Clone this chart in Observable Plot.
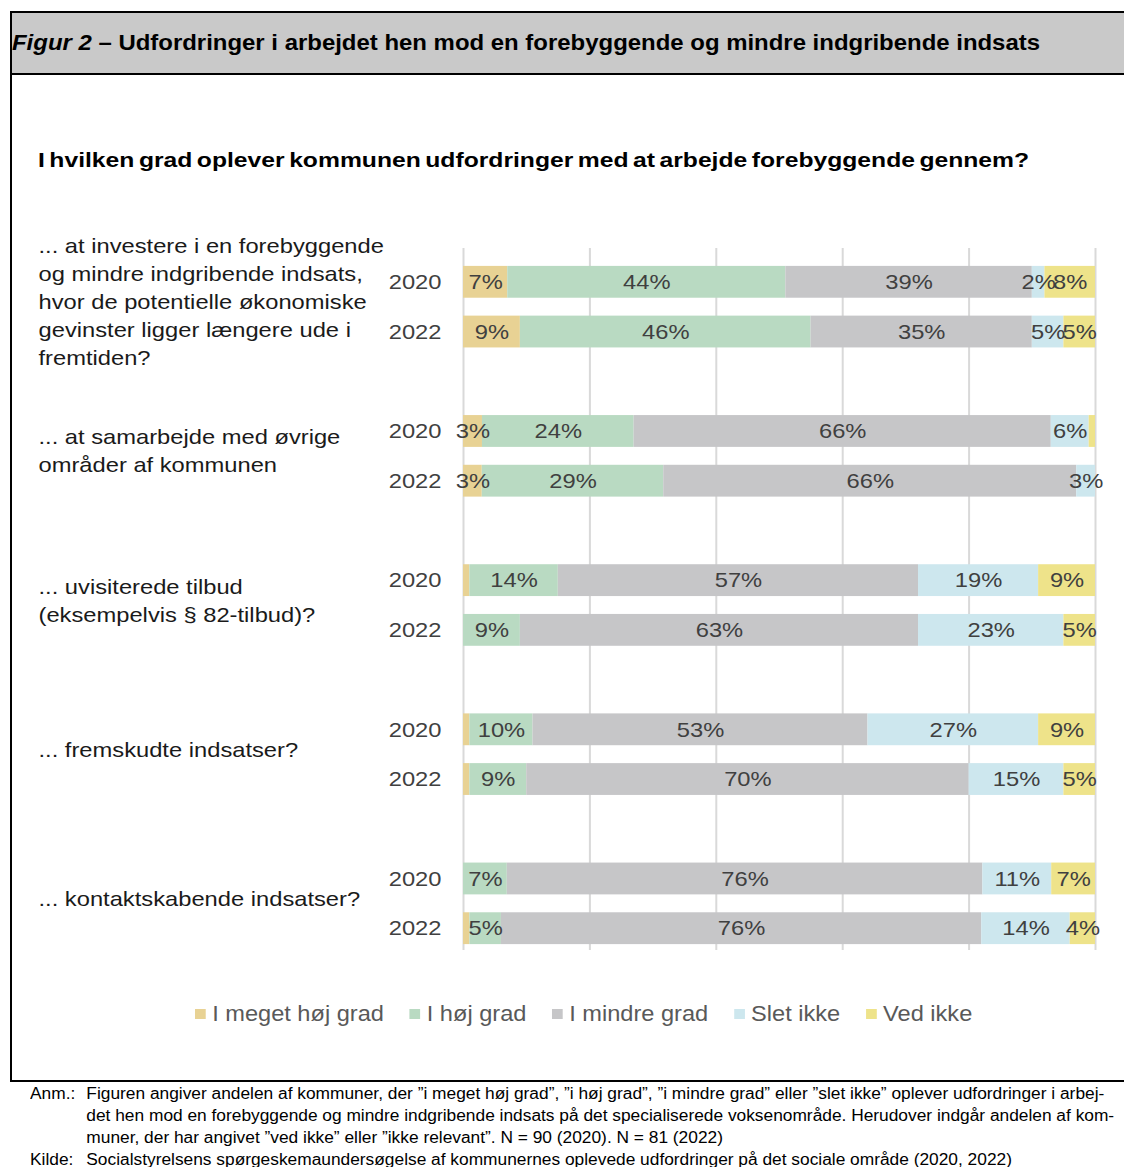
<!DOCTYPE html>
<html>
<head>
<meta charset="utf-8">
<script src="https://cdn.jsdelivr.net/npm/d3@7"></script>
<script src="https://cdn.jsdelivr.net/npm/@observablehq/plot@0.6"></script>
<style>
  body { margin: 0; background: #fff; }
  #page { position: relative; width: 1124px; height: 1167px; overflow: hidden; background: #fff;
          font-family: "Liberation Sans", Arial, sans-serif; color: #000; }
  .abs { position: absolute; }
  #frame { left: 10px; top: 11px; width: 1140px; height: 1071px; border: 2px solid #000; box-sizing: border-box; }
  #titlebar { left: 12px; top: 13px; width: 1120px; height: 60px; background: #C9C9C9; border-bottom: 2px solid #000; }
  #title { left: 12px; top: 30px; font-size: 22px; font-weight: bold; white-space: nowrap; line-height: 26px;
           transform: scaleX(1.088); transform-origin: 0 0; }
  #subtitle { left: 38px; top: 147px; font-size: 21px; font-weight: bold; white-space: nowrap; line-height: 26px;
              word-spacing: -2px; transform: scaleX(1.175); transform-origin: 0 0; }
  #chart { left: 0; top: 200px; }
  #legend { left: 195px; top: 1000px; display: flex; font-size: 22px; color: #595959; white-space: nowrap; line-height: 28px;
            transform: scaleX(1.072); transform-origin: 0 0; }
  #legend .item { display: flex; align-items: center; margin-right: 24px; }
  #legend .sw { width: 10px; height: 10px; margin-right: 6px; }
  #notes { left: 30px; top: 1083px; font-size: 16px; line-height: 22px; color: #000;
           transform: scaleX(1.083); transform-origin: 0 0; }
  #notes table { border-collapse: collapse; }
  #notes td { padding: 0; vertical-align: top; white-space: nowrap; }
  #notes td.h { width: 52px; }
</style>
</head>
<body>
<div id="page">
  <div id="frame" class="abs"></div>
  <div id="titlebar" class="abs"></div>
  <div id="title" class="abs"><i>Figur 2</i> – Udfordringer i arbejdet hen mod en forebyggende og mindre indgribende indsats</div>
  <div id="subtitle" class="abs">I hvilken grad oplever kommunen udfordringer med at arbejde forebyggende gennem?</div>
  <div id="chart" class="abs"></div>
  <div id="legend" class="abs"></div>
  <div id="notes" class="abs">
    <table>
      <tr><td class="h">Anm.:</td><td>Figuren angiver andelen af kommuner, der ”i meget høj grad”, ”i høj grad”, ”i mindre grad” eller ”slet ikke” oplever udfordringer i arbej-</td></tr>
      <tr><td></td><td>det hen mod en forebyggende og mindre indgribende indsats på det specialiserede voksenområde. Herudover indgår andelen af kom-</td></tr>
      <tr><td></td><td>muner, der har angivet ”ved ikke” eller ”ikke relevant”. N = 90 (2020). N = 81 (2022)</td></tr>
      <tr><td class="h">Kilde:</td><td>Socialstyrelsens spørgeskemaundersøgelse af kommunernes oplevede udfordringer på det sociale område (2020, 2022)</td></tr>
    </table>
  </div>
</div>
<script>
// ---- Data ----
const categories = ["I meget høj grad", "I høj grad", "I mindre grad", "Slet ikke", "Ved ikke"];
const colors = ["#E8D294", "#B9DAC2", "#C6C6C8", "#CDE7EE", "#EEE38A"];
const questions = [
  "... at investere i en forebyggende\nog mindre indgribende indsats,\nhvor de potentielle økonomiske\ngevinster ligger længere ude i\nfremtiden?",
  "... at samarbejde med øvrige\nområder af kommunen",
  "... uvisiterede tilbud\n(eksempelvis § 82-tilbud)?",
  "... fremskudte indsatser?",
  "... kontaktskabende indsatser?"
];
const years = ["2020", "2022"];
const values2020 = [
  [7, 44, 39, 2, 8],
  [3, 24, 66, 6, 1],
  [1, 14, 57, 19, 9],
  [1, 10, 53, 27, 9],
  [0, 7, 76, 11, 7]
];
const values2022 = [
  [9, 46, 35, 5, 5],
  [3, 29, 66, 3, 0],
  [0, 9, 63, 23, 5],
  [1, 9, 70, 15, 5],
  [1, 5, 76, 14, 4]
];
const gridTicks = [0, 0.2, 0.4, 0.6, 0.8, 1];

// ---- Build table ----
const valuesByYear = {"2020": values2020, "2022": values2022};
const slots = [];
const rowKeys = [];
questions.forEach((q, i) => {
  years.forEach(y => { slots.push(`q${i}-${y}`); rowKeys.push(`q${i}-${y}`); });
  if (i < questions.length - 1) slots.push(`gap${i}`);
});
const rows = [];
questions.forEach((q, i) => {
  years.forEach(y => {
    valuesByYear[y][i].forEach((v, j) => {
      rows.push({key: `q${i}-${y}`, cat: categories[j], value: v});
    });
  });
});
const qLabels = questions.map((q, i) => ({key: `q${i}-2020`, text: q}));

const plot = Plot.plot({
  width: 1124,
  height: 752,
  marginLeft: 463,
  marginRight: 29,
  marginTop: 48,
  marginBottom: 2,
  style: {fontFamily: "'Liberation Sans', Arial, sans-serif", background: "transparent", overflow: "visible"},
  x: {domain: [0, 1], axis: null},
  y: {domain: slots, range: [48, 762], padding: 0.36, round: false, axis: null},
  color: {domain: categories, range: colors},
  marks: [
    Plot.ruleX(gridTicks, {stroke: "#D9D9D9", strokeWidth: 2}),
    Plot.barX(rows, Plot.stackX({x: "value", y: "key", fill: "cat", offset: "normalize"})),
    Plot.text(rows, Plot.stackX({
      x: "value", y: "key", z: "cat", offset: "normalize",
      text: d => d.value >= 2 ? d.value + "%" : "",
      fill: "#404040", fontSize: 21
    })),
    Plot.text(rowKeys, {
      y: d => d, frameAnchor: "left", text: d => d.split("-")[1],
      textAnchor: "end", dx: -22, fill: "#404040", fontSize: 21
    }),
    Plot.text(qLabels, {
      y: "key", text: "text", frameAnchor: "left", textAnchor: "start",
      dx: -425, dy: 18, lineHeight: 1.33, fill: "#1a1a1a", fontSize: 21
    })
  ]
});
// widen the glyphs horizontally, as in the reference rendering
plot.querySelectorAll("text").forEach(t => {
  const tr = t.getAttribute("transform") || "";
  t.setAttribute("transform", tr + " scale(1.13,1)");
});
document.getElementById("chart").appendChild(plot);

// ---- Legend ----
const legend = document.getElementById("legend");
categories.forEach((c, i) => {
  const item = document.createElement("div");
  item.className = "item";
  const sw = document.createElement("span");
  sw.className = "sw";
  sw.style.background = colors[i];
  const lab = document.createElement("span");
  lab.textContent = c;
  item.appendChild(sw); item.appendChild(lab);
  legend.appendChild(item);
});
</script>
</body>
</html>
